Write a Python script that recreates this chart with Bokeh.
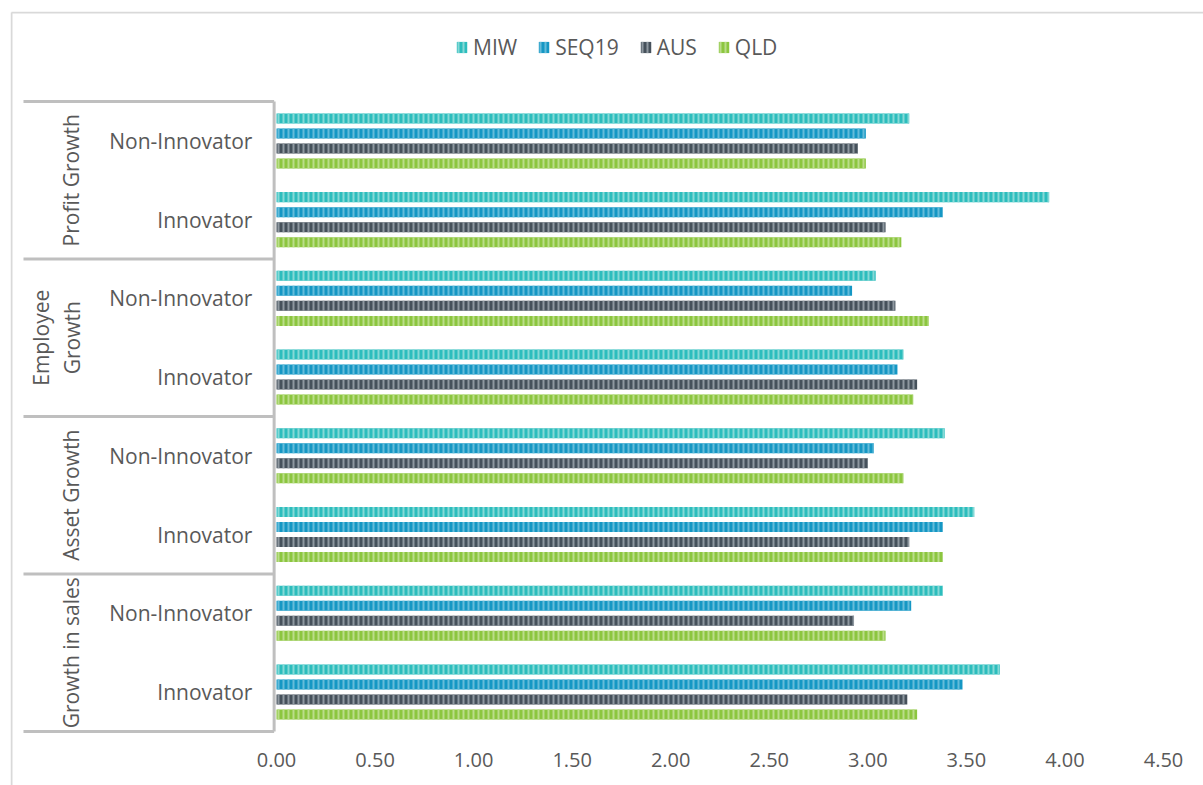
from math import pi

from bokeh.core.properties import value
from bokeh.embed import file_html
from bokeh.models import (ColumnDataSource, FixedTicker, Legend, LegendItem,
                          LinearAxis, Range1d)
from bokeh.plotting import figure
from bokeh.resources import INLINE
from bokeh.transform import dodge

# Categories, top to bottom
groups = ["Profit Growth", "Employee Growth", "Asset Growth", "Growth in sales"]
group_labels = ["Profit Growth", "Employee\nGrowth", "Asset Growth", "Growth in sales"]
subcategories = ["Non-Innovator", "Innovator"]
series = ["MIW", "SEQ19", "AUS", "QLD"]

# Mean scores per (group, subcategory), in the same top-to-bottom order
miw = [3.21, 3.92, 3.04, 3.18, 3.39, 3.54, 3.38, 3.67]
seq19 = [2.99, 3.38, 2.92, 3.15, 3.03, 3.38, 3.22, 3.48]
aus = [2.95, 3.09, 3.14, 3.25, 3.00, 3.21, 2.93, 3.20]
qld = [2.99, 3.17, 3.31, 3.23, 3.18, 3.38, 3.09, 3.25]

ticks = [0.0, 0.5, 1.0, 1.5, 2.0, 2.5, 3.0, 3.5, 4.0, 4.5]
tick_labels = ["0.00", "0.50", "1.00", "1.50", "2.00", "2.50", "3.00", "3.50", "4.00", "4.50"]

colors = {
    "MIW": ("#2cbdbd", "#86d9d6"),
    "SEQ19": ("#1597c4", "#65bcda"),
    "AUS": ("#46515b", "#8f98a0"),
    "QLD": ("#8cc63f", "#bbdd8a"),
}

FONT = "Open Sans"
TEXT = "#595959"
SEP = "#bfbfbf"

n_slots = len(groups) * len(subcategories)
slot_y = [n_slots - 0.5 - i for i in range(n_slots)]
slot_sub = [subcategories[i % len(subcategories)] for i in range(n_slots)]
group_y = [n_slots - len(subcategories) * (j + 0.5) for j in range(len(groups))]

source = ColumnDataSource(dict(y=slot_y, sub=slot_sub, MIW=miw, SEQ19=seq19, AUS=aus, QLD=qld))

p = figure(width=1203, height=785, output_backend="svg", toolbar_location=None,
           x_range=Range1d(-1.3495, 4.703), y_range=Range1d(-0.686, 9.143),
           x_axis_location=None, y_axis_location=None,
           min_border_left=10, min_border_top=11, min_border_right=0, min_border_bottom=0)
p.outline_line_color = None
p.background_fill_color = "white"
p.border_fill_color = "white"
p.grid.visible = False

# Chart-area border (left and top edges)
p.segment(x0=[-1.3444, -1.3444], y0=[-0.686, 9.130], x1=[-1.3444, 4.703], y1=[9.130, 9.130],
          line_color="#d9d9d9", line_width=2)

# Category separators and the value-axis baseline
bounds = [len(subcategories) * j for j in range(len(groups) + 1)]
p.segment(x0=[-1.2836] * len(bounds), x1=[-0.012] * len(bounds), y0=bounds, y1=bounds,
          line_color=SEP, line_width=3)
p.segment(x0=[-0.012], x1=[-0.012], y0=[bounds[0]], y1=[bounds[-1]], line_color=SEP, line_width=3)

# Bars: four series dodged within each subcategory slot
step = 0.1905
offsets = [1.5 * step, 0.5 * step, -0.5 * step, -1.5 * step]
items = []
for name, off in zip(series, offsets):
    fill, hatch = colors[name]
    r = p.hbar(y=dodge("y", off, range=p.y_range), left=0, right=name, height=0.127,
               source=source, fill_color=fill, line_color=None,
               hatch_pattern="vertical_line", hatch_color=hatch, hatch_scale=5, hatch_weight=2)
    items.append(LegendItem(label=name, renderers=[r]))

# Subcategory labels
p.text(x=-0.122, y="y", text="sub", source=source, text_align="right", text_baseline="middle",
       text_font=value(FONT), text_font_size="21px", text_color=TEXT)

# Group labels, rotated
gx = [-1.045 - (0.07 if "\n" in g else 0.0) for g in group_labels]
p.text(x=gx, y=group_y, text=group_labels, angle=pi / 2, text_align="center",
       text_baseline="middle", text_font=value(FONT), text_font_size="21px",
       text_color=TEXT, text_line_height=1.1)

# Value axis
xaxis = LinearAxis(fixed_location=0, ticker=FixedTicker(ticks=ticks),
                   major_label_overrides={t: l for t, l in zip(ticks, tick_labels)})
xaxis.axis_line_color = None
xaxis.major_tick_line_color = None
xaxis.minor_tick_line_color = None
xaxis.major_label_standoff = 16
xaxis.major_label_text_font = FONT
xaxis.major_label_text_font_size = "20px"
xaxis.major_label_text_color = TEXT
p.add_layout(xaxis, "below")

legend = Legend(items=items, orientation="horizontal", location=(445, 724),
                glyph_width=13, glyph_height=14, label_standoff=5, spacing=20,
                padding=0, margin=0, border_line_color=None, background_fill_alpha=0,
                label_text_font=FONT, label_text_font_size="21px", label_text_color=TEXT,
                label_height=20)
p.add_layout(legend)

open("out.html", "w").write(file_html(p, INLINE))
